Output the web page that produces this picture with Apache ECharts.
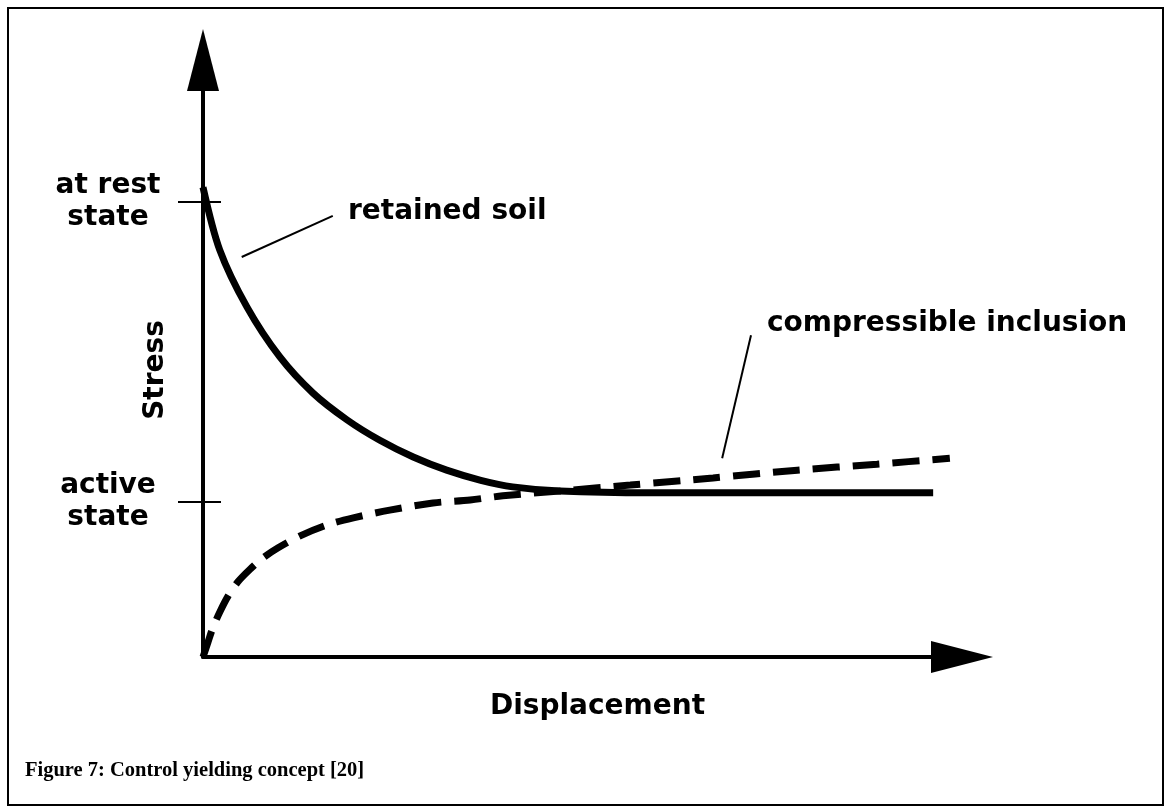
<!DOCTYPE html>
<html>
<head>
<meta charset="utf-8">
<script src="https://cdn.jsdelivr.net/npm/echarts@6/dist/echarts.min.js"></script>
<style>
	html, body { margin: 0; padding: 0; background: #fff; }
	#frame { position: absolute; left: 7px; top: 7px; width: 1157px; height: 799px; border: 2px solid #000; box-sizing: border-box; }
	#charts { position: absolute; left: 0; top: 0; width: 1167px; height: 808px; }
</style>
</head>
<body>
<div id="frame"></div>
<div id="charts"></div>
<script>
// retained soil (solid), [displacement, stress]
var soilX = [0, 2.2, 5.8, 10.1, 14.5, 19.0, 23.3, 27.7, 32.1, 36.6, 40.8, 47.0, 58.9, 78.7, 96.2];
var soilY = [78.7, 68.2, 58.6, 50.3, 44.2, 39.7, 36.3, 33.5, 31.3, 29.6, 28.5, 27.8, 27.5, 27.5, 27.5];
// compressible inclusion (dashed)
var inclX = [0, 0.66, 1.3, 2.2, 3.3, 4.6, 6.2, 7.9, 9.9, 12.8, 16.3, 19.8, 24.6, 30.3, 35.2, 39.5, 47.0, 56.3, 67.2, 78.3, 88.8, 98.4];
var inclY = [0, 2.5, 4.9, 7.5, 10.2, 12.6, 14.7, 16.6, 18.3, 20.3, 22.1, 23.3, 24.6, 25.8, 26.3, 27.0, 27.8, 28.8, 30.0, 31.3, 32.3, 33.3];
// stress ticks
var tickValues = [26.0, 76.2];
var tickLabels = ['active\nstate', 'at rest\nstate'];
// leader lines [x1, y1, x2, y2]
var soilLeader = [5.1, 67.0, 17.1, 73.9];
var inclLeader = [68.4, 33.3, 72.2, 53.9];

function pairs(xs, ys) {
	var out = [];
	for (var i = 0; i < xs.length; i++) {
		out.push([xs[i], ys[i]]);
	}
	return out;
}

function leader(l) {
	return [[{coord: [l[0], l[1]]}, {coord: [l[2], l[3]]}]];
}

var font = 'DejaVu Sans';
var bigFont = 'bold 28px "DejaVu Sans"';

var chart = echarts.init(document.getElementById('charts'));
var option = {
	animation: false,
	grid: { left: 203, right: 205, top: 60, bottom: 151 },
	xAxis: {
		type: 'value', min: 0, max: 100,
		name: 'Displacement', nameLocation: 'middle', nameGap: 36,
		nameTextStyle: { color: '#000', fontFamily: font, fontWeight: 'bold', fontSize: 28, padding: [0, 0, 0, 30] },
		axisLine: { show: true, symbol: ['none', 'triangle'], symbolSize: [32, 62], lineStyle: { color: '#000', width: 4 } },
		axisTick: { show: false },
		axisLabel: { show: false },
		splitLine: { show: false }
	},
	yAxis: [
		{
			type: 'value', min: 0, max: 100,
			axisLine: { show: true, symbol: ['none', 'triangle'], symbolSize: [32, 62], lineStyle: { color: '#000', width: 4 } },
			axisTick: { show: true, customValues: tickValues, length: 25, lineStyle: { color: '#000', width: 2 } },
			axisLabel: {
				show: true, customValues: tickValues,
				formatter: function (v) { return tickLabels[tickValues.indexOf(v)]; },
				color: '#000', fontFamily: font, fontWeight: 'bold', fontSize: 28, lineHeight: 32,
				align: 'center', margin: 95
			},
			splitLine: { show: false }
		},
		{
			type: 'value', min: 0, max: 100, position: 'left',
			axisLine: { show: false },
			axisTick: { show: true, inside: true, customValues: tickValues, length: 18, lineStyle: { color: '#000', width: 2 } },
			axisLabel: { show: false },
			splitLine: { show: false }
		}
	],
	series: [
		{
			name: 'retained soil', type: 'line', data: pairs(soilX, soilY),
			smooth: 0.3, symbol: 'none',
			lineStyle: { color: '#000', width: 7 },
			markLine: { silent: true, symbol: 'none', label: { show: false }, lineStyle: { color: '#000', width: 2, type: 'solid' }, data: leader(soilLeader) }
		},
		{
			name: 'compressible inclusion', type: 'line', data: pairs(inclX, inclY),
			smooth: 0.3, symbol: 'none',
			lineStyle: { color: '#000', width: 7, type: [27, 13] },
			markLine: { silent: true, symbol: 'none', label: { show: false }, lineStyle: { color: '#000', width: 2, type: 'solid' }, data: leader(inclLeader) }
		}
	],
	graphic: [
		{ type: 'text', x: 156, y: 370, rotation: Math.PI / 2, style: { text: 'Stress', fill: '#000', font: bigFont, align: 'center', verticalAlign: 'middle' } },
		{ type: 'text', left: 348, top: 198, style: { text: 'retained soil', fill: '#000', font: bigFont } },
		{ type: 'text', left: 767, top: 310, style: { text: 'compressible inclusion', fill: '#000', font: bigFont } },
		{ type: 'text', left: 25, top: 760, style: { text: 'Figure 7: Control yielding concept [20]', fill: '#000', font: 'bold 20.5px "Liberation Serif"' } }
	]
};
chart.setOption(option);
</script>
</body>
</html>
